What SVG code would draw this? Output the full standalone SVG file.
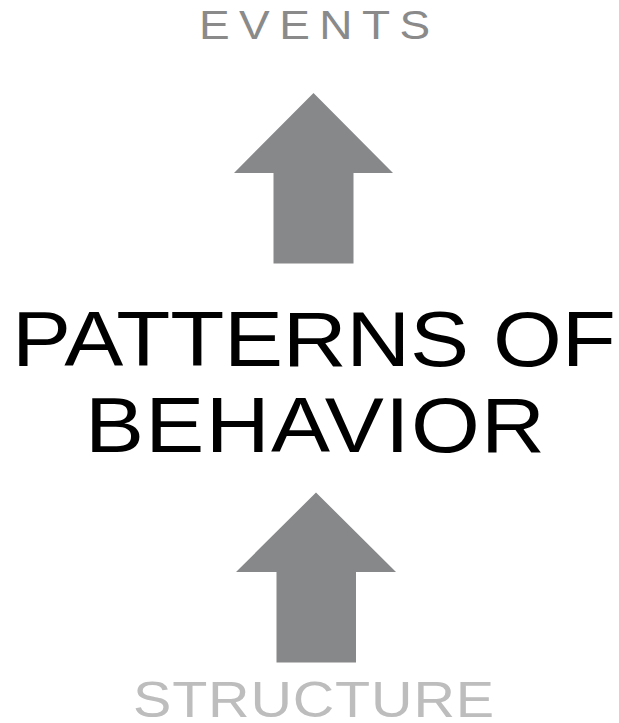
<svg xmlns="http://www.w3.org/2000/svg" width="619" height="723" viewBox="0 0 619 723">
<style>
.lbl{font-family:"Liberation Sans",Arial,sans-serif;}
.arrow{fill:#87888a;}
</style>
<rect width="619" height="723" fill="#ffffff"/>
<g id="events">
<text class="lbl" transform="translate(199,39) scale(1.15,1)" x="0" y="0" font-size="40" fill="#8a8a8a" textLength="201" lengthAdjust="spacing">EVENTS</text>
</g>
<g id="patterns">
<text class="lbl" transform="translate(12,366) scale(1.15,1)" x="0" y="0" font-size="77" fill="#000000" textLength="525" lengthAdjust="spacing">PATTERNS OF</text>
<text class="lbl" transform="translate(85,452) scale(1.15,1)" x="0" y="0" font-size="77" fill="#000000" textLength="400" lengthAdjust="spacing">BEHAVIOR</text>
</g>
<g id="structure">
<text class="lbl" transform="translate(133,717) scale(1.15,1)" x="0" y="0" font-size="50" fill="#bdbdbd" textLength="314" lengthAdjust="spacing">STRUCTURE</text>
</g>
<g id="connectors">
<polygon class="arrow" points="313.5,93 393,173 353.5,173 353.5,263.5 273.5,263.5 273.5,173 234,173"/>
<polygon class="arrow" points="316,492.5 396,572 356,572 356,662.5 276.5,662.5 276.5,572 236,572"/>
</g>
</svg>
